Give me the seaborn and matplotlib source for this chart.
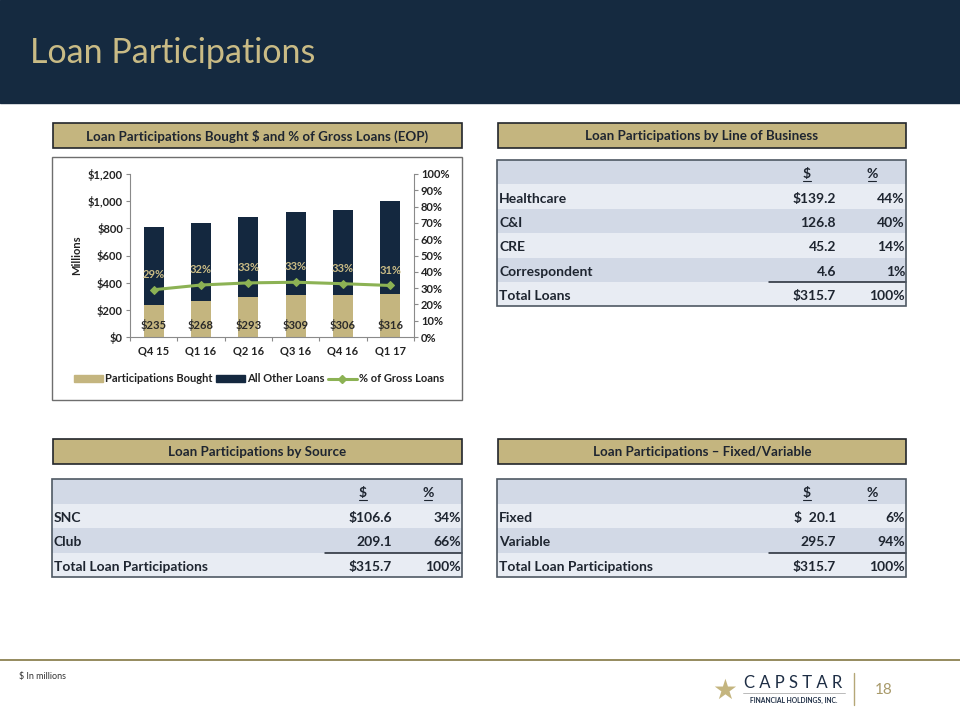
import numpy as np
import pandas as pd
import matplotlib
matplotlib.use("Agg")
import matplotlib.pyplot as plt
import seaborn as sns
from matplotlib.patches import Rectangle
from matplotlib.lines import Line2D
from matplotlib.ticker import FuncFormatter, MultipleLocator, FixedLocator

# ---------------- data ----------------
quarters = ["Q4 15", "Q1 16", "Q2 16", "Q3 16", "Q4 16", "Q1 17"]
participations = [235, 268, 293, 309, 306, 316]
gross_loans = [810, 840, 883, 920, 935, 1000]
pct_gross = [29.0, 31.9, 33.2, 33.6, 32.7, 31.6]
pct_labels = ["29%", "32%", "33%", "33%", "33%", "31%"]

lob_names = ["Healthcare", "C&I", "CRE", "Correspondent"]
lob_dollars = ["$139.2", "126.8", "45.2", "4.6"]
lob_pcts = ["44%", "40%", "14%", "1%"]
lob_total = ["Total Loans", "$315.7", "100%"]

src_names = ["SNC", "Club"]
src_dollars = ["$106.6", "209.1"]
src_pcts = ["34%", "66%"]
src_total = ["Total Loan Participations", "$315.7", "100%"]

fv_names = ["Fixed", "Variable"]
fv_dollars = ["$  20.1", "295.7"]
fv_pcts = ["6%", "94%"]
fv_total = ["Total Loan Participations", "$315.7", "100%"]

# ---------------- style ----------------
sns.set_theme(style="white")
plt.rcParams["font.family"] = ["Lato", "DejaVu Sans"]

NAVY = "#14283F"
GOLD = "#C4B57F"
GREEN = "#8CB254"
ROW_L = "#E8ECF3"
ROW_D = "#D2D9E6"
TXT = "#1E2530"
FS = 8

W, H = 960, 720
fig = plt.figure(figsize=(9.6, 7.2), dpi=100)
bg = fig.add_axes([0, 0, 1, 1])
bg.set_xlim(0, W)
bg.set_ylim(H, 0)
bg.axis("off")

# header band
bg.add_patch(Rectangle((0, 0), W, 103, color="#152A40", zorder=1))
bg.text(30, 53, "Loan Participations", color="#C9BB85", fontsize=24.5,
        va="center", ha="left", zorder=2)

# section header boxes
def section(x0, x1, y0, y1, label):
    bg.add_patch(Rectangle((x0, y0), x1 - x0, y1 - y0, facecolor=GOLD,
                           edgecolor="#23262B", lw=1.2, zorder=2))
    bg.text((x0 + x1) / 2, (y0 + y1) / 2 + 0.5, label, ha="center", va="center",
            fontsize=9.6, fontweight="bold", color=TXT, zorder=3)

section(53, 462, 123, 148, "Loan Participations Bought $ and % of Gross Loans (EOP)")
section(498, 906, 123, 148, "Loan Participations by Line of Business")
section(53, 462, 439, 464, "Loan Participations by Source")
section(498, 906, 439, 464, "Loan Participations \u2013 Fixed/Variable")

# chart frame
bg.add_patch(Rectangle((52, 157), 410, 243, facecolor="white",
                       edgecolor="#6E6E6E", lw=1.0, zorder=2))

# tables
def table(x0, x1, y0, rh, names, dollars, pcts, total):
    rows = [("", "$", "%")] + list(zip(names, dollars, pcts)) + [tuple(total)]
    for i, (nm, d, p) in enumerate(rows):
        y = y0 + i * rh
        fc = ROW_D if i % 2 == 0 else ROW_L
        if i == len(rows) - 1:
            fc = ROW_L
        bg.add_patch(Rectangle((x0, y), x1 - x0, rh, facecolor=fc,
                               edgecolor="none", zorder=2))
        yc = y + rh / 2 + 2
        if i == 0:
            for lab, xc in (("$", x1 - 99), ("%", x1 - 34)):
                bg.text(xc, yc, lab, ha="center", va="center", fontsize=10,
                        fontweight="bold", color=TXT, zorder=3)
                bg.plot([xc - 4, xc + 4], [yc + 7, yc + 7], color=TXT, lw=0.8, zorder=3)
        else:
            bg.text(x0 + 2, yc, nm, ha="left", va="center", fontsize=10,
                    fontweight="bold", color=TXT, zorder=3)
            bg.text(x1 - 70, yc, d, ha="right", va="center", fontsize=10,
                    fontweight="bold", color=TXT, zorder=3)
            bg.text(x1 - 1, yc, p, ha="right", va="center", fontsize=10,
                    fontweight="bold", color=TXT, zorder=3)
    ytot = y0 + (len(rows) - 1) * rh
    bg.plot([x1 - 137, x1], [ytot, ytot], color="#1E2530", lw=1.1, zorder=4)
    bg.add_patch(Rectangle((x0, y0), x1 - x0, rh * len(rows), facecolor="none",
                           edgecolor="#4F5964", lw=1.2, zorder=4))

table(497, 906, 160, 24.4, lob_names, lob_dollars, lob_pcts, lob_total)
table(52, 462, 479, 24.5, src_names, src_dollars, src_pcts, src_total)
table(497, 906, 479, 24.5, fv_names, fv_dollars, fv_pcts, fv_total)

# footer
bg.plot([0, W], [660, 660], color="#8C8152", lw=1.3, zorder=2)
bg.text(19, 677, "$ In millions", fontsize=6.5, color="#333333", va="center", ha="left")
bg.text(725, 691, "\u2605", fontsize=20, color=GOLD, ha="center", va="center",
        family=["DejaVu Sans"])
bg.text(793, 683, "C A P S T A R", fontsize=12, color="#1E2E45", ha="center",
        va="center")
bg.plot([743, 845], [693, 693], color="#B0B0B0", lw=0.6)
bg.text(794, 700, "FINANCIAL HOLDINGS, INC.", fontsize=4.9, color="#1E2E45",
        ha="center", va="center", fontweight="bold")
bg.plot([854, 854], [673, 705], color="#B5A777", lw=1)
bg.text(884, 690, "18", fontsize=11, color="#A89A6A", ha="center", va="center")

# ---------------- bar chart ----------------
l, r, t, b = 130, 414, 174, 337
ax = fig.add_axes([l / W, 1 - b / H, (r - l) / W, (b - t) / H])
ax.set_zorder(5)
df = pd.DataFrame({"q": quarters, "part": participations, "gross": gross_loans})
sns.barplot(data=df, x="q", y="gross", color=NAVY, width=0.42, ax=ax,
            saturation=1, edgecolor="none")
sns.barplot(data=df, x="q", y="part", color=GOLD, width=0.42, ax=ax,
            saturation=1, edgecolor="none")
ax.set_ylim(0, 1200)
ax.set_xlim(-0.5, len(quarters) - 0.5)
ax.yaxis.set_major_locator(MultipleLocator(200))
ax.yaxis.set_major_formatter(FuncFormatter(lambda v, p: f"${v:,.0f}"))
ax.set_xlabel("")
ax.set_ylabel("Millions", fontsize=FS, fontweight="bold", color="#222222", labelpad=4)
ax.set_facecolor("none")
for s in ("top", "right"):
    ax.spines[s].set_visible(False)
for s in ("left", "bottom"):
    ax.spines[s].set_color("#8A8A8A")
    ax.spines[s].set_linewidth(0.8)
ax.tick_params(axis="y", which="major", left=True, length=3, width=0.8,
               color="#8A8A8A", labelsize=FS, labelcolor="#222222", pad=2)
ax.tick_params(axis="x", which="major", length=0, labelsize=FS,
               labelcolor="#222222", pad=6)
ax.xaxis.set_minor_locator(FixedLocator(np.arange(-0.5, len(quarters), 1.0)))
ax.tick_params(axis="x", which="minor", bottom=True, length=3, width=0.8, color="#8A8A8A")
for lab in ax.get_xticklabels() + ax.get_yticklabels():
    lab.set_fontweight("bold")
for i, v in enumerate(participations):
    ax.text(i, 88, f"${v}", ha="center", va="center", fontsize=FS,
            fontweight="bold", color="#2A2A2A", zorder=6)

ax2 = ax.twinx()
ax2.set_zorder(6)
xpos = np.arange(len(quarters))
sns.lineplot(x=xpos, y=pct_gross, ax=ax2, color=GREEN, lw=2.2, marker="D",
             markersize=4, markeredgecolor=GREEN, legend=False)
ax2.set_ylim(0, 100)
ax2.set_xlim(-0.5, len(quarters) - 0.5)
ax2.yaxis.set_major_locator(MultipleLocator(10))
ax2.yaxis.set_major_formatter(FuncFormatter(lambda v, p: f"{v:.0f}%"))
ax2.set_ylabel("")
for s in ("top", "left", "bottom"):
    ax2.spines[s].set_visible(False)
ax2.spines["right"].set_color("#8A8A8A")
ax2.spines["right"].set_linewidth(0.8)
ax2.tick_params(axis="y", right=True, length=3, width=0.8, color="#8A8A8A",
                labelsize=FS, labelcolor="#222222", pad=2)
for lab in ax2.get_yticklabels():
    lab.set_fontweight("bold")
for i, (v, s) in enumerate(zip(pct_gross, pct_labels)):
    ax2.text(i, v + 9.5, s, ha="center", va="center", fontsize=FS,
             fontweight="bold", color="#C9BB85", zorder=7)

handles = [
    Rectangle((0, 0), 1, 1, color=GOLD),
    Rectangle((0, 0), 1, 1, color=NAVY),
    Line2D([0], [0], color=GREEN, lw=2.2, marker="D", markersize=4),
]
leg = ax2.legend(handles, ["Participations Bought", "All Other Loans", "% of Gross Loans"],
                 loc="center", bbox_to_anchor=(259 / W, 1 - 379 / H),
                 bbox_transform=fig.transFigure, ncol=3, frameon=False,
                 fontsize=FS, handlelength=2.6, handleheight=0.55,
                 columnspacing=0.3, handletextpad=0.2)
for tx in leg.get_texts():
    tx.set_fontweight("bold")
    tx.set_color("#222222")

fig.savefig("out.png", dpi=100)
